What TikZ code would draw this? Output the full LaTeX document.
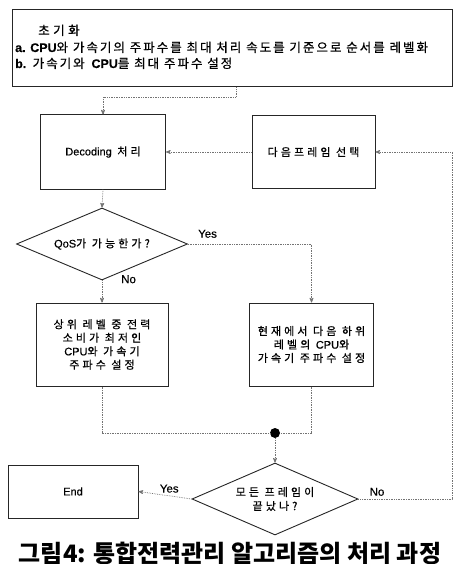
\documentclass[tikz,border=0pt]{standalone}
\usepackage{fontspec}
\setmainfont{Noto Sans CJK KR}
\newfontfamily\hg[LetterSpace=28,FakeBold=0.6]{Noto Sans CJK KR}
\newfontfamily\hgtop[LetterSpace=16,FakeBold=0.6]{Noto Sans CJK KR}
\newfontfamily\lat[FakeBold=0.4]{Liberation Sans}
\newcommand{\la}[1]{{\lat #1}}
\usetikzlibrary{arrows}
\usetikzlibrary{calc}
\usetikzlibrary{shapes.geometric}
\tikzset{
 blk/.style={draw=black!85, line width=1pt, fill=white, align=center, font=\hg\fontsize{11}{13.5}\selectfont},
 toptxt/.style={anchor=base west, inner sep=0pt, font=\hgtop\fontsize{12.5}{15}\selectfont},
 dmd/.style={diamond, aspect=2.3, draw=black!85, line width=0.9pt, fill=white, inner sep=0pt, align=center, font=\hg\fontsize{11}{14}\selectfont},
 flow/.style={black!55, densely dotted, line width=0.7pt},
 lbl/.style={font=\lat\fontsize{11.5}{12}\selectfont, inner sep=1pt}
}
\begin{document}
\begin{tikzpicture}[x=1pt,y=-1pt,>=stealth']
\useasboundingbox (0,0) rectangle (456,564);
\node[blk, minimum width=440, minimum height=77] (init) at (232,48.5) {};
\node[toptxt] (ttl) at (38,35) {\hg 초기화};
\node[toptxt] (ita) at (15,52) {\textbf{\la{a. CPU}}와 가속기의 주파수를 최대 처리 속도를 기준으로 순서를 레벨화};
\node[toptxt] (itb) at (15,68) {\textbf{\la{b.}} 가속기와 \textbf{\la{CPU}}를 최대 주파수 설정};
\node[blk, minimum width=125, minimum height=74] (dec) at (103,152) {\la{Decoding} 처리};
\node[blk, minimum width=123, minimum height=73] (next) at (313.5,152) {다음프레임 선택};
\node[dmd, minimum width=171, minimum height=72] (qos) at (102,244) {\la{QoS}가 가능한가?};
\node[blk, minimum width=132, minimum height=83] (low) at (102,344.5) {상위 레벨 중 전력\\소비가 최저인\\\la{CPU}와 가속기\\주파수 설정};
\node[blk, minimum width=124, minimum height=83] (sub) at (311.5,344.5) {현재에서 다음 하위\\레벨의 \la{CPU}와\\가속기 주파수 설정};
\node[circle, fill=black, inner sep=0, minimum size=10] (junc) at (275,433) {};
\node[dmd, minimum width=166, minimum height=72] (last) at (275,499) {모든 프레임이\\끝났나?};
\node[blk, minimum width=130, minimum height=53] (end) at (73,491.5) {\la{End}};
\node[font=\bfseries\fontsize{24}{28}\selectfont, inner sep=0] (cap) at (230,553) {그림4: 통합전력관리 알고리즘의 처리 과정};
\coordinate (tap) at (236,97);
\coordinate (loop) at (452,152);
\draw[flow,->] (init.south -| tap) -- (tap) -| (dec.north);
\draw[flow,->] (next.west) -- (dec.east);
\draw[flow,->] (dec.south) -- (qos.north);
\draw[flow,->] (qos.south) -- (low.north);
\draw[flow,->] (qos.east) -| (sub.north);
\draw[flow] (low.south) |- (junc);
\draw[flow] (sub.south) |- (junc);
\draw[flow,->] (junc) -- (last.north);
\draw[flow,->] (last.west) -- (end.east);
\draw[flow,->] (last.east) -| (loop) -- (next.east);
\node[lbl, anchor=south west] (yes1) at ($(qos.east)+(9,-5)$) {Yes};
\node[lbl, anchor=south west] (no1) at ($(qos.south)+(18,4)$) {No};
\node[lbl, anchor=south] (yes2) at ($(last.west)!0.42!(end.east)+(0,-2)$) {Yes};
\node[lbl, anchor=south west] (no2) at ($(last.east)+(10,-2)$) {No};
\end{tikzpicture}
\end{document}
